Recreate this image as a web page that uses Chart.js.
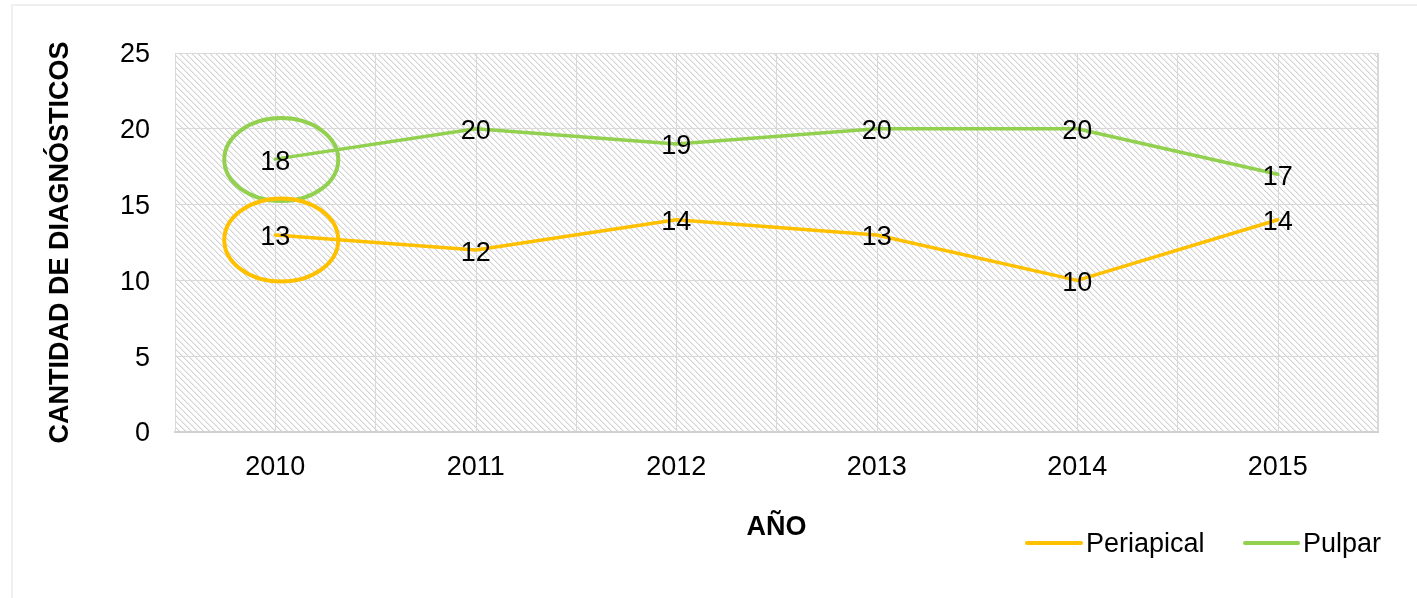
<!DOCTYPE html>
<html>
<head>
<meta charset="utf-8">
<script src="https://cdn.jsdelivr.net/npm/chart.js@4"></script>
<style>
  html, body { margin: 0; padding: 0; background: #fff; }
  #wrap { position: relative; width: 1417px; height: 598px; overflow: hidden; }
  #frame { position: absolute; left: 11px; top: 4px; width: 1420px; height: 600px;
           border-left: 2px solid #efefef; border-top: 2px solid #efefef; box-sizing: border-box; }
  canvas { position: absolute; left: 0; top: 0; }
</style>
</head>
<body>
<div id="wrap">
  <div id="frame"></div>
  <canvas id="c" width="1417" height="598"></canvas>
</div>
<script>
const years = ['2010', '2011', '2012', '2013', '2014', '2015'];
const periapical = [13, 12, 14, 13, 10, 14];
const pulpar = [18, 20, 19, 20, 20, 17];
const seriesNames = ['Periapical', 'Pulpar'];
const seriesColors = ['#FFC000', '#92D050'];
const yTicks = [0, 5, 10, 15, 20, 25];
const xTitle = 'AÑO';
const yTitle = 'CANTIDAD DE DIAGNÓSTICOS';
// circled points: [datasetIndex, categoryIndex]
const circled = [[1, 0], [0, 0]];

const FONT = '"Liberation Sans", Arial, sans-serif';

function makeHatch() {
  const s = 6;
  const c = document.createElement('canvas');
  c.width = s; c.height = s;
  const g = c.getContext('2d');
  g.fillStyle = '#ffffff';
  g.fillRect(0, 0, s, s);
  for (let i = 0; i < s; i++) {
    g.fillStyle = '#d3d3d3';
    g.fillRect(i, i, 1, 1);
    g.fillStyle = '#ebebeb';
    g.fillRect((i + 1) % s, i, 1, 1);
  }
  return g.createPattern(c, 'repeat');
}

const bgPlugin = {
  id: 'bgHatch',
  beforeDraw(chart) {
    const { ctx, chartArea: a } = chart;
    ctx.save();
    ctx.fillStyle = makeHatch();
    ctx.fillRect(a.left, a.top, a.right - a.left, a.bottom - a.top);
    ctx.restore();
  }
};

const centerGridPlugin = {
  id: 'centerGrid',
  beforeDatasetsDraw(chart) {
    const { ctx, chartArea: a, scales: { x } } = chart;
    ctx.save();
    ctx.strokeStyle = '#d9d9d9';
    ctx.lineWidth = 1;
    years.forEach((_, i) => {
      const px = Math.round(x.getPixelForValue(i)) + 0.5;
      ctx.beginPath();
      ctx.moveTo(px, a.top);
      ctx.lineTo(px, a.bottom);
      ctx.stroke();
    });
    ctx.beginPath();
    ctx.moveTo(a.right - 0.5, a.top);
    ctx.lineTo(a.right - 0.5, a.bottom);
    ctx.stroke();
    ctx.restore();
  }
};

const labelPlugin = {
  id: 'valueLabels',
  afterDatasetsDraw(chart) {
    const { ctx } = chart;
    ctx.save();
    ctx.font = '27px ' + FONT;
    ctx.fillStyle = '#000';
    ctx.textAlign = 'center';
    ctx.textBaseline = 'middle';
    chart.data.datasets.forEach((ds, di) => {
      const meta = chart.getDatasetMeta(di);
      meta.data.forEach((pt, i) => {
        ctx.fillText(String(ds.data[i]), pt.x, pt.y + 3);
      });
    });
    ctx.lineWidth = 4;
    circled.forEach(([di, ci]) => {
      const pt = chart.getDatasetMeta(di).data[ci];
      ctx.strokeStyle = seriesColors[di];
      ctx.beginPath();
      ctx.ellipse(pt.x + 6, pt.y + (di === 0 ? 5 : 0.5), 57, 41.5, 0, 0, Math.PI * 2);
      ctx.stroke();
    });
    ctx.restore();
  }
};

const legendPlugin = {
  id: 'manualLegend',
  afterDraw(chart) {
    const { ctx } = chart;
    const items = [[1027, 1081, 1086], [1245, 1298, 1303]];
    const y = 543;
    ctx.save();
    ctx.font = '27px ' + FONT;
    ctx.textBaseline = 'middle';
    ctx.textAlign = 'left';
    chart.data.datasets.forEach((ds, i) => {
      const [x0, x1, tx] = items[i];
      ctx.strokeStyle = ds.borderColor;
      ctx.lineWidth = 4;
      ctx.lineCap = 'round';
      ctx.beginPath();
      ctx.moveTo(x0, y);
      ctx.lineTo(x1, y);
      ctx.stroke();
      ctx.fillStyle = '#000';
      ctx.fillText(ds.label, tx, y + 2);
    });
    ctx.restore();
  }
};

new Chart(document.getElementById('c'), {
  type: 'line',
  data: {
    labels: years,
    datasets: [
      { label: seriesNames[0], data: periapical, borderColor: seriesColors[0], backgroundColor: seriesColors[0],
        borderWidth: 3.5, pointRadius: 0, tension: 0, borderCapStyle: 'round', borderJoinStyle: 'round' },
      { label: seriesNames[1], data: pulpar, borderColor: seriesColors[1], backgroundColor: seriesColors[1],
        borderWidth: 3.5, pointRadius: 0, tension: 0, borderCapStyle: 'round', borderJoinStyle: 'round' }
    ]
  },
  options: {
    responsive: false,
    devicePixelRatio: 1,
    animation: false,
    layout: { padding: { top: 53, right: 39, bottom: 0, left: 0 } },
    plugins: { legend: { display: false }, tooltip: { enabled: false } },
    scales: {
      x: {
        type: 'category',
        offset: true,
        grid: { offset: true, color: '#d9d9d9', lineWidth: 1, drawTicks: false },
        border: { display: true, color: '#d0d0d0', width: 2 },
        ticks: { font: { family: FONT, size: 27 }, color: '#000', padding: 19, maxRotation: 0 },
        title: { display: true, text: xTitle, color: '#000',
                 font: { family: FONT, size: 27, weight: 'bold', lineHeight: 1.2 },
                 padding: { top: 0, bottom: 54 } },
        afterFit(scale) { scale.height = 166; }
      },
      y: {
        min: 0, max: 25,
        afterBuildTicks(scale) { scale.ticks = yTicks.map(v => ({ value: v })); },
        grid: { color: '#d9d9d9', lineWidth: 1, drawTicks: false },
        border: { display: true, color: '#d9d9d9', width: 1 },
        ticks: { font: { family: FONT, size: 27 }, color: '#000', padding: 25, labelOffset: 2 },
        title: { display: true, text: yTitle, color: '#000',
                 font: { family: FONT, size: 27, weight: 'bold', lineHeight: 1.2 },
                 padding: { top: 44, bottom: 0 } },
        afterFit(scale) { scale.width = 175; }
      }
    }
  },
  plugins: [bgPlugin, centerGridPlugin, labelPlugin, legendPlugin]
});
</script>
</body>
</html>
